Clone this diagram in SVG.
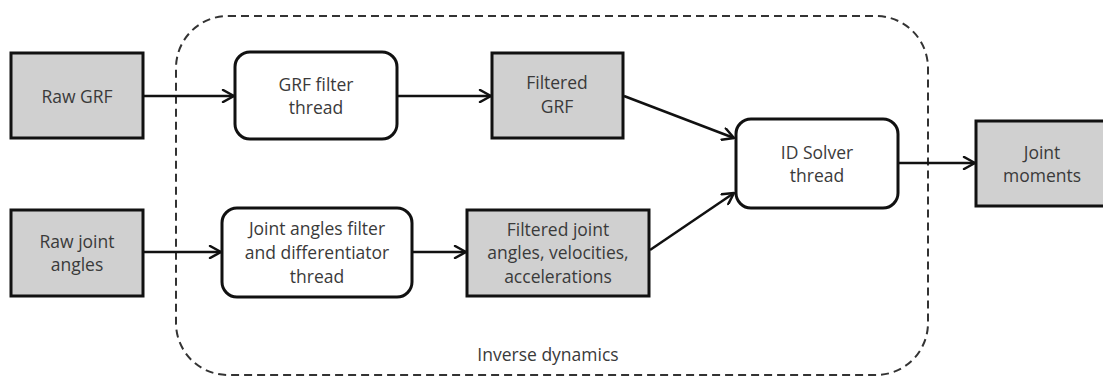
<svg xmlns="http://www.w3.org/2000/svg" width="1103" height="376" viewBox="0 0 1103 376">
<defs>
<style>
.data{fill:#d0d0d0;stroke:#111;stroke-width:3}
.proc{fill:#fff;stroke:#111;stroke-width:3}
.t{font-family:"Open Sans","Liberation Sans",sans-serif;font-size:17.5px;fill:#3a3a3a;text-anchor:middle}
.c{fill:none;stroke:#111;stroke-width:2.5}
</style>
<marker id="arr" viewBox="0 0 14 14" refX="13" refY="7" markerWidth="14" markerHeight="14" markerUnits="userSpaceOnUse" orient="auto">
<path d="M2,1 L13,7 L2,13" fill="none" stroke="#111" stroke-width="2.5" stroke-linecap="round" stroke-linejoin="round"/>
</marker>
</defs>
<rect width="1103" height="376" fill="#fff"/>
<g id="inverse-dynamics">
<rect x="176" y="16" width="752" height="359" rx="52" ry="52" fill="none" stroke="#333" stroke-width="2" stroke-dasharray="8 5"/>
<text class="t" x="548" y="361">Inverse dynamics</text>
</g>
<g id="connectors">
<line class="c" x1="143" y1="96" x2="234" y2="96" marker-end="url(#arr)"/>
<line class="c" x1="397" y1="96" x2="491" y2="96" marker-end="url(#arr)"/>
<line class="c" x1="624" y1="96" x2="734" y2="138" marker-end="url(#arr)"/>
<line class="c" x1="143" y1="252" x2="221" y2="252" marker-end="url(#arr)"/>
<line class="c" x1="412" y1="252" x2="466" y2="252" marker-end="url(#arr)"/>
<line class="c" x1="650" y1="250" x2="734" y2="193" marker-end="url(#arr)"/>
<line class="c" x1="898" y1="163" x2="975" y2="163" marker-end="url(#arr)"/>
</g>
<g id="raw-grf">
<rect class="data" x="11" y="53" width="132" height="85"/>
<text class="t" x="77" y="103">Raw GRF</text>
</g>
<g id="raw-joint-angles">
<rect class="data" x="11" y="210" width="132" height="86"/>
<text class="t" x="77" y="248">Raw joint</text>
<text class="t" x="77" y="271">angles</text>
</g>
<g id="grf-filter-thread">
<rect class="proc" x="235" y="52" width="162" height="87" rx="15" ry="15"/>
<text class="t" x="316" y="91">GRF filter</text>
<text class="t" x="316" y="114">thread</text>
</g>
<g id="joint-angles-filter">
<rect class="proc" x="222" y="208" width="190" height="89" rx="15" ry="15"/>
<text class="t" x="317" y="235">Joint angles filter</text>
<text class="t" x="317" y="259">and differentiator</text>
<text class="t" x="317" y="283">thread</text>
</g>
<g id="filtered-grf">
<rect class="data" x="492" y="53" width="131" height="85"/>
<text class="t" x="557" y="89">Filtered</text>
<text class="t" x="557" y="113">GRF</text>
</g>
<g id="filtered-joint-angles">
<rect class="data" x="467" y="210" width="182" height="86"/>
<text class="t" x="558" y="236">Filtered joint</text>
<text class="t" x="558" y="259">angles, velocities,</text>
<text class="t" x="558" y="283">accelerations</text>
</g>
<g id="id-solver-thread">
<rect class="proc" x="736" y="119" width="162" height="89" rx="15" ry="15"/>
<text class="t" x="817" y="159">ID Solver</text>
<text class="t" x="817" y="182">thread</text>
</g>
<g id="joint-moments">
<rect class="data" x="976" y="121" width="132" height="85"/>
<text class="t" x="1042" y="159">Joint</text>
<text class="t" x="1042" y="182">moments</text>
</g>
</svg>
